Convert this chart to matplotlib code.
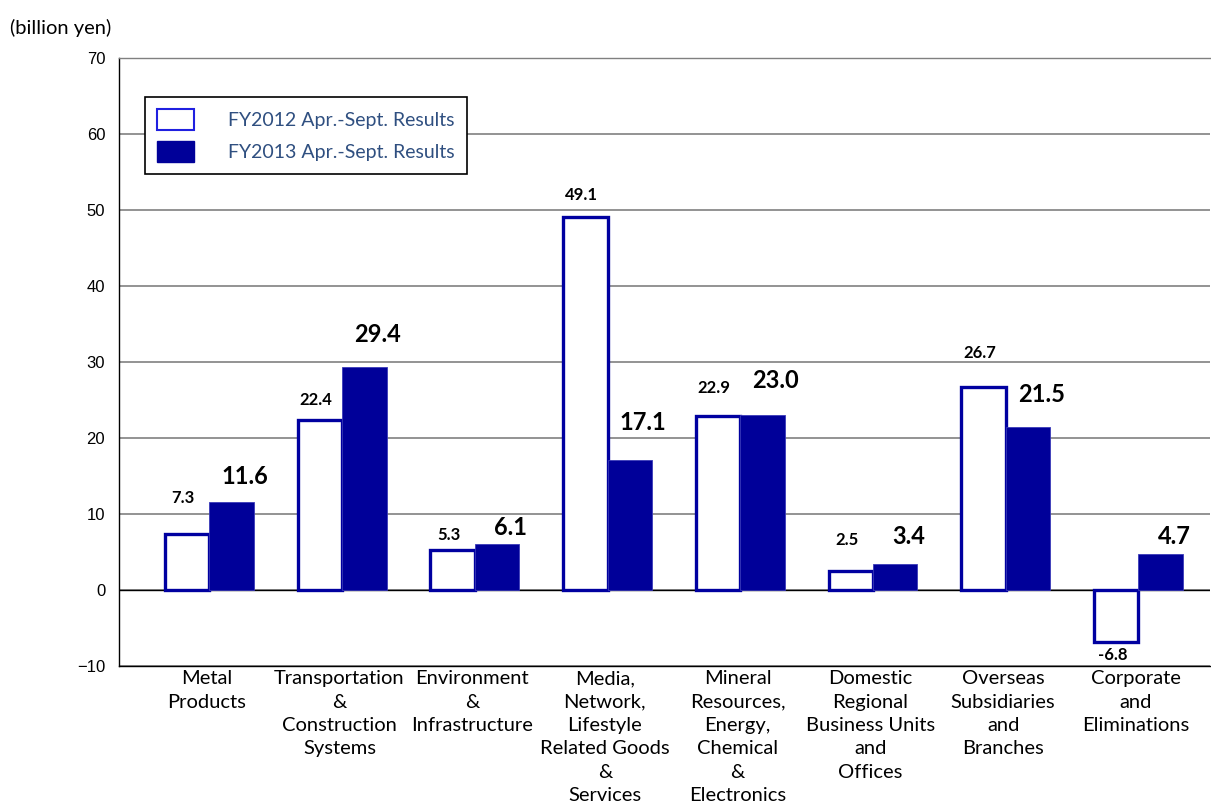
import numpy as np
import matplotlib
matplotlib.use("Agg")
import matplotlib.pyplot as plt
from matplotlib.patches import Patch

# data
categories = ["Metal\nProducts",
              "Transportation\n&\nConstruction\nSystems",
              "Environment\n&\nInfrastructure",
              "Media,\nNetwork,\nLifestyle\nRelated Goods\n&\nServices",
              "Mineral\nResources,\nEnergy,\nChemical\n&\nElectronics",
              "Domestic\nRegional\nBusiness Units\nand\nOffices",
              "Overseas\nSubsidiaries\nand\nBranches",
              "Corporate\nand\nEliminations"]
fy2012 = [7.3, 22.4, 5.3, 49.1, 22.9, 2.5, 26.7, -6.8]
fy2013 = [11.6, 29.4, 6.1, 17.1, 23.0, 3.4, 21.5, 4.7]
series_names = ["FY2012 Apr.-Sept. Results", "FY2013 Apr.-Sept. Results"]
yticks = [-10, 0, 10, 20, 30, 40, 50, 60, 70]

# label nudges (data units above bar top)
dy12 = [4.8, 2.6, 1.9, 2.9, 3.7, 4.1, 4.5, -1.8]
dy13 = [3.3, 4.2, 2.1, 4.9, 4.6, 3.6, 4.2, 2.3]

NAVY = "#000099"
EDGE = "#0000a0"
FONT = "Lato"

fig = plt.figure(figsize=(12.11, 8.09), dpi=100)
ax = fig.add_axes([0.0983, 0.1768, 0.9010, 0.7515])

x = np.arange(len(categories))
w = 0.335
ax.bar(x - w / 2, fy2012, w, color="white", edgecolor=EDGE, lw=2.4, zorder=3)
ax.bar(x + w / 2, fy2013, w, color=NAVY, edgecolor="#3a3ab8", lw=0.6, zorder=3)

for i, (a, b) in enumerate(zip(fy2012, fy2013)):
    ax.text(x[i] - w / 2 - 0.03, a + dy12[i], f"{a:.1f}", ha="center", va="center",
            fontsize=12, fontweight="bold", family=FONT, zorder=4)
    ax.text(x[i] + w / 2 + 0.1, b + dy13[i], f"{b:.1f}", ha="center", va="center",
            fontsize=17, fontweight="bold", family=FONT, zorder=4)

ax.set_xlim(-0.68, 7.54)
ax.set_ylim(-10, 70)
ax.set_yticks(yticks)
ax.yaxis.grid(True, color="#808080", lw=1.2)
ax.axhline(0, color="black", lw=1.0, zorder=2)
ax.set_axisbelow(True)
ax.tick_params(axis="y", length=0, labelsize=12, pad=10)
for t in ax.get_yticklabels():
    t.set_family("Liberation Sans")
ax.set_xticks([])
ax.spines["right"].set_visible(False)
for s in ["left", "top", "bottom"]:
    ax.spines[s].set_color("black")
    ax.spines[s].set_linewidth(1.0)
ax.spines["top"].set_color("#808080")

for i, c in enumerate(categories):
    ax.text(x[i] - 0.02, -10.55, c, ha="center", va="top", fontsize=14.5, family=FONT,
            linespacing=1.46)

fig.text(0.008, 0.966, "(billion yen)", ha="left", va="center", fontsize=14.5, family=FONT)

handles = [Patch(facecolor="white", edgecolor="#2020e0", lw=1.5),
           Patch(facecolor=NAVY, edgecolor=NAVY)]
leg = ax.legend(handles, series_names, loc="upper left", bbox_to_anchor=(0.0238, 0.936),
                borderaxespad=0, frameon=True, fancybox=False, edgecolor="black",
                framealpha=1, handlelength=1.9, handleheight=1.3, handletextpad=1.75,
                borderpad=0.62, labelspacing=0.55, prop={"family": FONT, "size": 14})
leg.get_frame().set_linewidth(1.2)
for t in leg.get_texts():
    t.set_color("#2f4f80")

fig.savefig("out.png", dpi=100)
